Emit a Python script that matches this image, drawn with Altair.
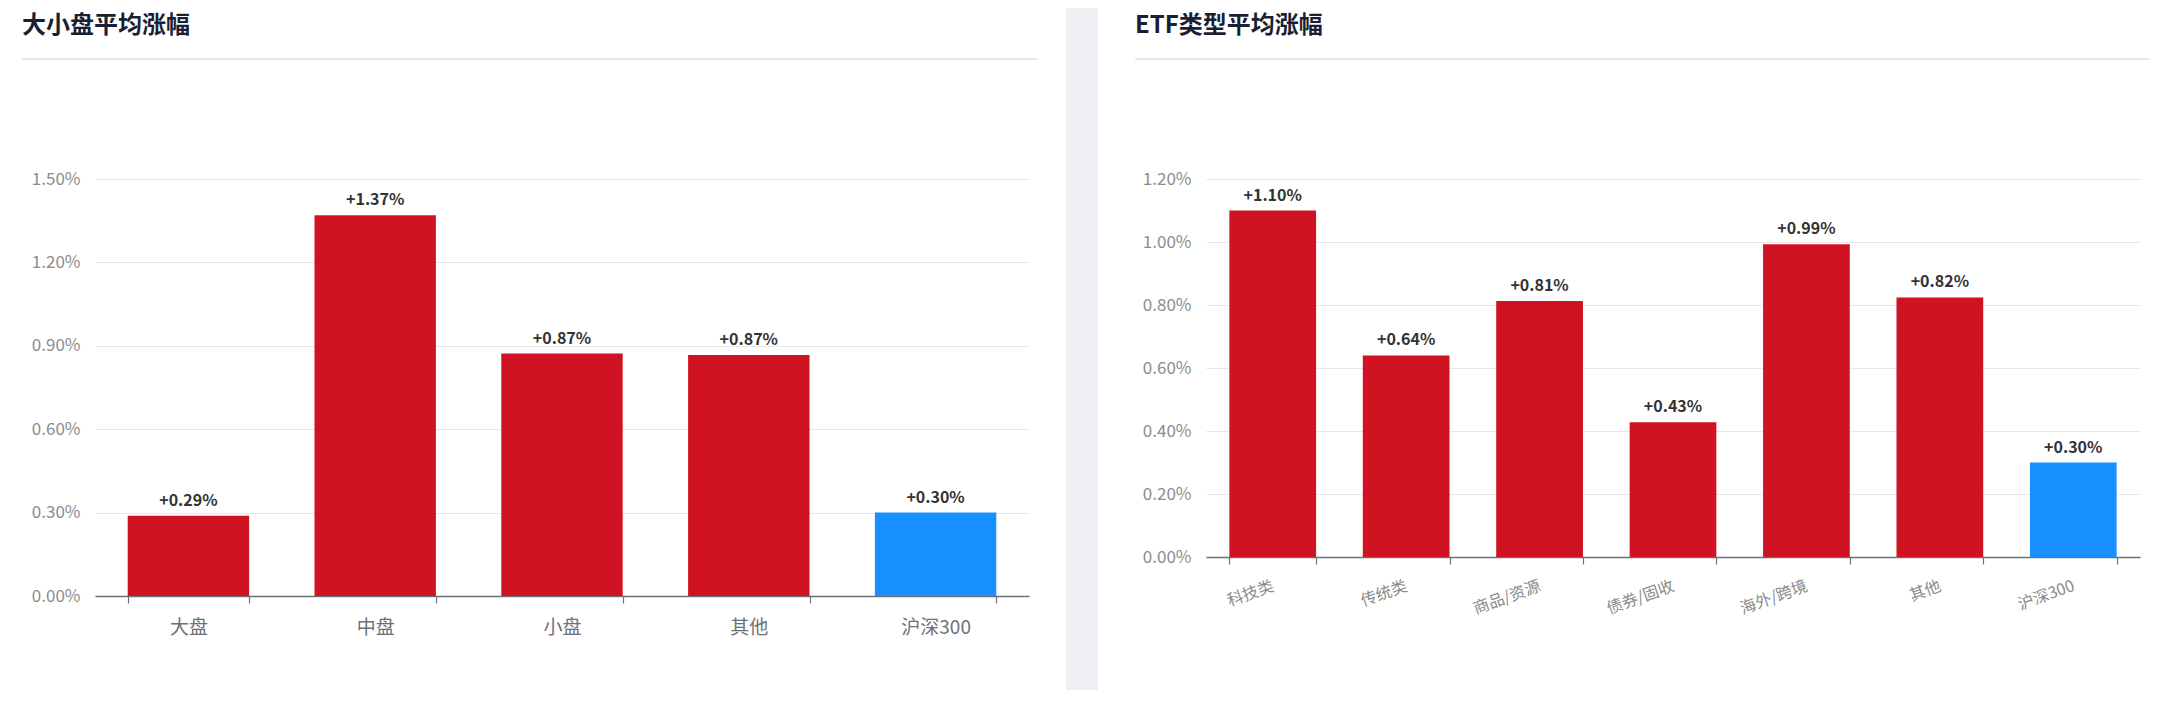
import altair as alt
import pandas as pd

FONT = "Noto Sans CJK SC"
RED = "#CF1322"
BLUE = "#1890FF"

left_title = "大小盘平均涨幅"
left_cats = ["大盘", "中盘", "小盘", "其他", "沪深300"]
left_vals = [0.289, 1.37, 0.872, 0.867, 0.30]
left_ticks = [0.0, 0.3, 0.6, 0.9, 1.2, 1.5]

right_title = "ETF类型平均涨幅"
right_cats = ["科技类", "传统类", "商品/资源", "债券/固收", "海外/跨境", "其他", "沪深300"]
right_vals = [1.10, 0.64, 0.813, 0.428, 0.993, 0.824, 0.30]
right_ticks = [0.0, 0.2, 0.4, 0.6, 0.8, 1.0, 1.2]

benchmark = "沪深300"


def panel(title, cats, vals, ticks, ymax, w, h, xaxis, title_dx, title_offset, div_x, sep=None):
    df = pd.DataFrame({"cat": cats, "val": vals})
    df["grp"] = ["基准" if c == benchmark else "ETF" for c in cats]
    base = alt.Chart(df)
    xenc = alt.X("cat:N", sort=cats,
                 scale=alt.Scale(paddingInner=0.35, paddingOuter=0.175),
                 axis=xaxis)
    yenc = alt.Y("val:Q", scale=alt.Scale(domain=[0, ymax], nice=False),
                 axis=alt.Axis(title=None, values=ticks,
                               labelExpr="format(datum.value, '.2f') + '%'",
                               domain=False, ticks=False, gridColor="#e6e8ec",
                               gridWidth=1.2,
                               labelColor="#8c8c8c", labelFontSize=17,
                               labelPadding=15, labelFont=FONT))
    bars = base.mark_bar().encode(
        x=xenc, y=yenc,
        color=alt.Color("grp:N", scale=alt.Scale(domain=["ETF", "基准"], range=[RED, BLUE]),
                        legend=None))
    text = base.transform_calculate(
        lbl="'+' + format(datum.val, '.2f') + '%'"
    ).mark_text(baseline="bottom", dy=-7, fontSize=16, fontWeight="bold",
                color="#333333", font=FONT).encode(
        x=alt.X("cat:N", sort=cats), y="val:Q", text="lbl:N")
    one = pd.DataFrame({"k": [0]})
    divider = alt.Chart(one).mark_rule(color="#e8e8e8", strokeWidth=2).encode(
        x=alt.value(div_x[0]), x2=alt.value(div_x[1]), y=alt.value(-120))
    layers = []
    if sep is not None:
        layers.append(alt.Chart(one).mark_rect(color="#eef0f4").encode(
            x=alt.value(sep[0]), x2=alt.value(sep[1]),
            y=alt.value(sep[2]), y2=alt.value(sep[3])))
    layers += [divider, bars, text]
    return alt.layer(*layers).properties(
        width=w, height=h,
        title=alt.Title(title, anchor="start", frame="group", dx=title_dx,
                        fontSize=24, fontWeight="bold", color="#1a1f33",
                        font=FONT, offset=title_offset))


left_xaxis = alt.Axis(title=None, labelAngle=0, labelFontSize=19, labelColor="#6e7079",
                      labelFont=FONT, domainColor="#6e7079", domainWidth=1.5,
                      tickColor="#6e7079", tickSize=7, tickWidth=1.2, tickBand="extent",
                      labelPadding=15)
right_xaxis = alt.Axis(title=None, labelAngle=-20, labelAlign="right", labelBaseline="middle",
                       labelFontSize=16, labelColor="#8a8a8a", labelFont=FONT,
                       domainColor="#6e7079", domainWidth=1.5,
                       tickColor="#6e7079", tickSize=7, tickWidth=1.2, tickBand="extent",
                       labelPadding=21)

left = panel(left_title, left_cats, left_vals, left_ticks, 1.5, 934, 417,
             left_xaxis, -73, 20, (-73, 942))
right = panel(right_title, right_cats, right_vals, right_ticks, 1.2, 934, 378,
              right_xaxis, -71, -30, (-71, 943), sep=(-140, -108, -171, 511))

chart = alt.hconcat(left, right, spacing=28).properties(
    padding={"left": 13, "top": 0, "right": 0, "bottom": 0}
).configure(background="white", font=FONT).configure_view(strokeWidth=0, stroke="transparent")

chart.save("out.html", embed_options={"renderer": "svg", "actions": False})
